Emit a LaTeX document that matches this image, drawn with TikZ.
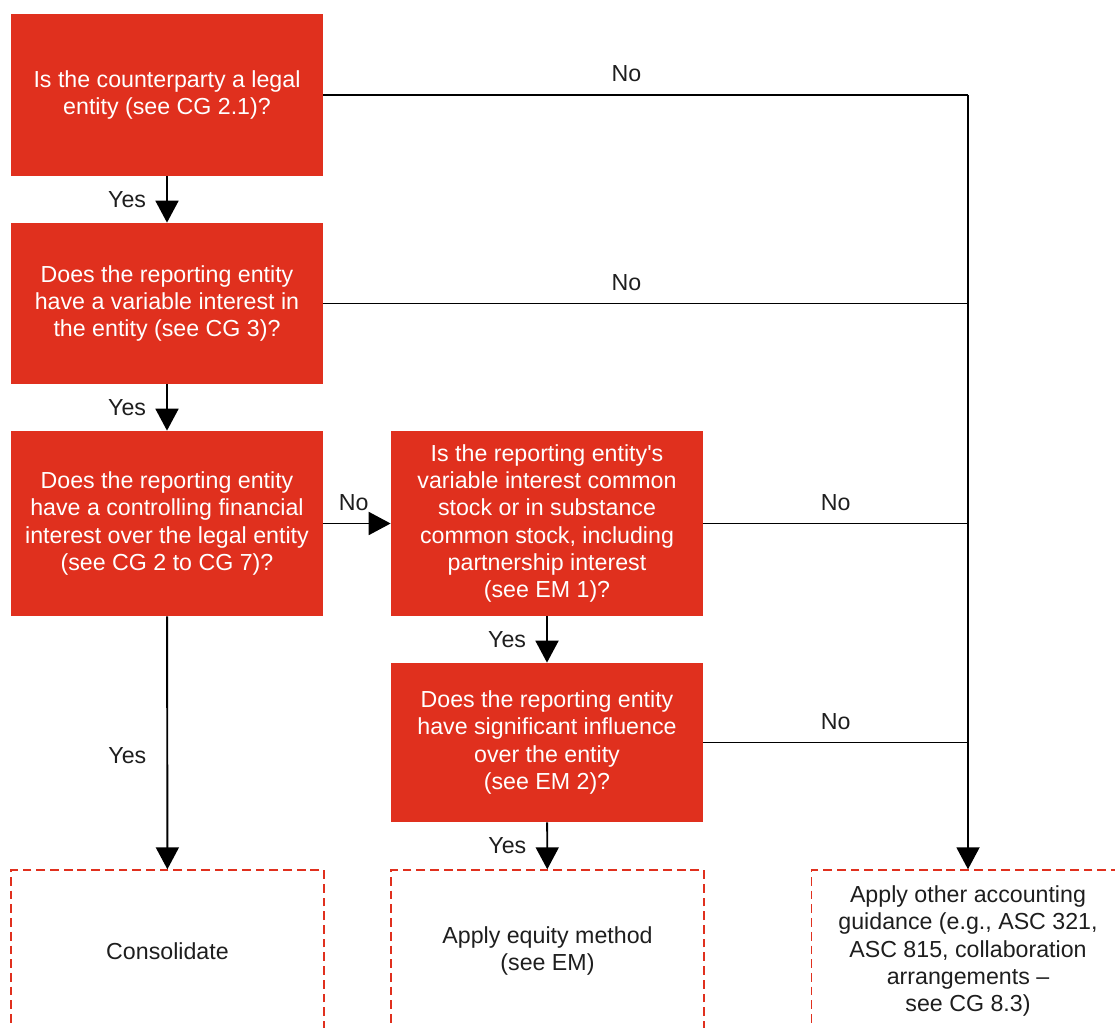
\documentclass[tikz,border=0pt]{standalone}
\usepackage{fontspec}
\setmainfont{Liberation Sans}
\usetikzlibrary{arrows.meta}
\definecolor{boxred}{RGB}{224,48,30}
\definecolor{inkgray}{RGB}{30,30,30}
\newcommand{\boxfont}{\fontsize{13.2}{15.5}\selectfont}
\tikzset{
  question/.style={fill=boxred, text=white, minimum width=6.24cm, align=center, inner sep=0pt, font=\boxfont},
  outcome/.style={draw=boxred, line width=0.8pt, dash pattern=on 5pt off 2.8pt, minimum width=6.26cm, minimum height=3.24cm, align=center, text=inkgray, font=\boxfont},
  flow/.style={line width=1.1pt, -{Triangle[width=0.46cm,length=0.44cm]}},
  link/.style={line width=1.1pt},
  lbl/.style={inner sep=0pt, text=inkgray, font=\boxfont}
}
\begin{document}
\begin{tikzpicture}
  \useasboundingbox (0,0) rectangle (22.3,-20.56);
  \clip (0,0) rectangle (22.3,-20.56);
  % questions
  \node[question, minimum height=3.24cm] (q1) at (3.34,-1.9) {Is the counterparty a legal\\entity (see CG 2.1)?};
  \node[question, minimum height=3.22cm] (q2) at (3.34,-6.07) {Does the reporting entity\\have a variable interest in\\the entity (see CG 3)?};
  \node[question, minimum height=3.7cm] (q3) at (3.34,-10.47) {Does the reporting entity\\have a controlling financial\\interest over the legal entity\\(see CG 2 to CG 7)?};
  \node[question, minimum height=3.7cm] (q4) at (10.94,-10.47) {Is the reporting entity\textquotesingle s\\variable interest common\\stock or in substance\\common stock, including\\partnership interest\\(see EM 1)?};
  \node[question, minimum height=3.18cm] (q5) at (10.94,-14.85) {Does the reporting entity\\have significant influence\\over the entity\\(see EM 2)?};
  % outcomes
  \node[outcome] (consol) at (3.35,-19.02) {Consolidate};
  \node[outcome] (equity) at (10.95,-19.02) {Apply equity method\\(see EM)};
  \node[outcome] (other) at (19.36,-19.02) {Apply other accounting\\guidance (e.g., ASC 321,\\ASC 815, collaboration\\arrangements --\\see CG 8.3)};
  % yes paths
  \draw[flow] (q1) -- node[lbl, midway, left=0.4cm] {Yes} (q2);
  \draw[flow] (q2) -- node[lbl, midway, left=0.4cm] {Yes} (q3);
  \draw[flow] (q3) -- node[lbl, pos=0.55, left=0.4cm] {Yes} (consol);
  \draw[flow] (q4) -- node[lbl, midway, left=0.4cm] {Yes} (q5);
  \draw[flow] (q5) -- node[lbl, midway, left=0.4cm] {Yes} (equity);
  % no paths
  \draw[flow] (q3) -- node[lbl, pos=0.45, above=0.24cm] {No} (q4);
  \coordinate (top) at (q1.east -| other.north);
  \draw[link] (q1.east) -- node[lbl, pos=0.47, above=0.24cm] {No} (top);
  \draw[link] (q2.east) -- node[lbl, pos=0.47, above=0.24cm] {No} (q2.east -| other.north);
  \draw[link] (q4.east) -- node[lbl, midway, above=0.24cm] {No} (q4.east -| other.north);
  \draw[link] (q5.east) -- node[lbl, midway, above=0.24cm] {No} (q5.east -| other.north);
  \draw[flow] (top) -- (other.north);
\end{tikzpicture}
\end{document}
